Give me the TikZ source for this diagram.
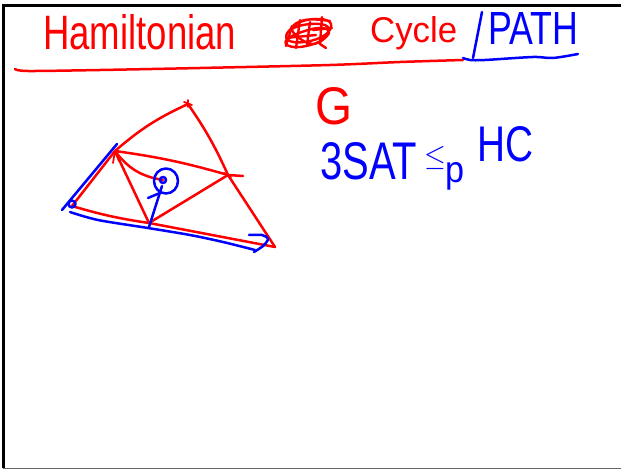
\documentclass[tikz,border=0pt]{standalone}
\usepackage{fontspec}
\setmainfont{Liberation Sans}
\begin{document}
\begin{tikzpicture}[x=1pt,y=-1pt,
  pen/.style={line width=2.5pt,line cap=round,line join=round},
  rpen/.style={pen,draw=red},
  bpen/.style={pen,draw=blue},
  hand/.style={inner sep=0pt,anchor=base west}]
\useasboundingbox (0,0) rectangle (621,470);
% frame
\draw[line width=3pt] (3,468) -- (3,5.5) -- (621,5.5);
\draw[line width=1.5pt,black!60] (3,468.5) -- (621,468.5);
% title
\node[hand,text=red] (title) at (43,50) {\resizebox{193pt}{35pt}{Hamiltonian}};
\draw[rpen,line width=2.4pt] plot[smooth,tension=0.7] coordinates {(288,32)(300,22)(320,19)(331,24)(325,35)(305,42)(288,40)(290,30)(310,24)(328,27)(322,40)(300,47)(286,44)(292,36)(318,28)(329,33)(312,44)(292,30)(305,20)(330,21)};
\draw[rpen,line width=2.4pt] (300,20) -- (296,48) (310,22) -- (307,45) (322,17) -- (320,44) -- (326,48) (313,30) -- (332,28) (286,38) -- (316,35) (292,26) -- (286,46);
\node[hand,text=red] (cycle) at (370,43) {\resizebox{87pt}{26pt}{Cycle}};
\draw[bpen] (482,12) -- (473,58);
\node[hand,text=blue] (path) at (488,45) {\resizebox{90pt}{32pt}{PATH}};
\draw[rpen] plot[smooth] coordinates {(15,69)(28,71)(100,70)(200,68)(330,65)(400,62)(463,60)};
\draw[bpen] plot[smooth] coordinates {(463,58)(470,60)(485,60)(533,57)(553,58)(578,54)};
% right text
\node[hand,text=red] (g) at (315,125) {\resizebox{37pt}{37pt}{G}};
\node[hand,text=blue] (sat) at (320,180) {\resizebox{97pt}{37pt}{3SAT}};
\node[hand,text=blue,anchor=center] (le) at (435,158) {\scalebox{2.8}[3.0]{$\leq$}};
\node[hand,text=blue] (p) at (445,183) {\resizebox{19pt}{20pt}{p}};
\node[hand,text=blue] (hc) at (477,162) {\resizebox{56pt}{35pt}{HC}};
% graph vertices
\coordinate (T) at (188,104);
\coordinate (A) at (115,151);
\coordinate (R) at (228,175);
\coordinate (Rx) at (243,176);
\coordinate (C) at (163,180);
\coordinate (B) at (149,223);
\coordinate (L) at (72,206);
\coordinate (BR) at (275,247);
% red edges
\draw[rpen] (L) -- (A);
\draw[rpen] (A) to[bend left=8] (T);
\draw[rpen] (T) to[bend left=5] (R) -- (BR);
\draw[rpen] (A) to[bend left=4] (R) -- (Rx);
\draw[rpen] (A) -- (B);
\draw[rpen] (A) to[bend right=22] (C);
\draw[rpen] (B) -- (R);
\draw[rpen] (L) to[bend right=4] (B);
\draw[rpen] (B) -- (BR);
\draw[rpen,line width=1.8pt] (113,163) -- (A) -- (119,161);
\draw[rpen,line width=1.8pt] (184,102) -- (192,105) (188,100) -- (188,107);
\draw[rpen,line width=1.8pt] (224,173) -- (231,177);
% blue annotations
\coordinate (b1) at (62,210);
\coordinate (b2) at (117,144);
\draw[bpen] (b1) -- (b2);
\draw[bpen] ([shift={(0,-2)}]L) circle (3.5);
\draw[bpen] plot[smooth] coordinates {(70,212)(98,220)(148,228)(190,235)(223,242)(255,250)};
\draw[bpen] plot[smooth] coordinates {(249,235)(262,235)(268,239)(263,246)(254,252)};
\draw[bpen] ([shift={(0,4)}]B) -- (162,186);
\draw[bpen] (148,198) -- (160,193);
\draw[bpen] (166,181) ellipse (12 and 12.5);
\draw[bpen] (C) circle (3);
\end{tikzpicture}
\end{document}
